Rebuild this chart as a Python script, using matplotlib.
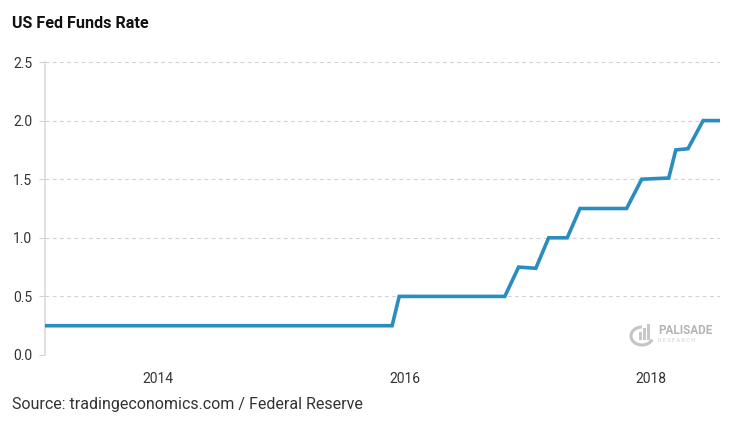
import matplotlib
matplotlib.use("Agg")
import matplotlib.pyplot as plt
import matplotlib.patches as mpatches
import pandas as pd

plt.rcParams['font.family'] = ['Roboto', 'DejaVu Sans']

title = "US Fed Funds Rate"
source = "Source: tradingeconomics.com / Federal Reserve"

dates = ["2013-01-30", "2015-11-25", "2015-12-16", "2016-10-24", "2016-12-04",
         "2017-01-24", "2017-03-03", "2017-04-27", "2017-06-04", "2017-10-20",
         "2017-12-04", "2018-02-22", "2018-03-15", "2018-04-20", "2018-06-04",
         "2018-07-24"]
rates = [0.25, 0.25, 0.50, 0.50, 0.75, 0.74, 1.00, 1.00, 1.25, 1.25,
         1.50, 1.51, 1.75, 1.76, 2.00, 2.00]
yticks = [0.0, 0.5, 1.0, 1.5, 2.0, 2.5]
xtick_years = [2014, 2016, 2018]

x = pd.to_datetime(dates)

W, H = 731, 429
fig = plt.figure(figsize=(W/100, H/100), dpi=100)
ax = fig.add_axes([45/W, 1-355/H, (720-45)/W, (355-62)/H])

ax.plot(x, rates, color='#2b8cbf', lw=2.6, solid_joinstyle='miter', zorder=3)

ax.set_xlim(x[0], x[-1])
ax.set_ylim(0, 2.5)
ax.set_yticks(yticks)
ax.set_yticklabels([f"{v:.1f}" for v in yticks])
ax.set_xticks([pd.Timestamp(f"{y}-01-01") for y in xtick_years])
ax.set_xticklabels([str(y) for y in xtick_years])

ax.grid(axis='y', color='#d2d2d2', linestyle=(0, (3.5, 3)), lw=0.8)
ax.set_axisbelow(True)
for s in ['top', 'right', 'bottom']:
    ax.spines[s].set_visible(False)
ax.spines['left'].set_color('#dddddd')
ax.spines['left'].set_linewidth(1.3)

ax.tick_params(axis='y', length=4, width=0.8, color='#d2d2d2', pad=5,
               labelsize=10, labelcolor='#333333')
ax.tick_params(axis='x', length=0, pad=12, labelsize=10, labelcolor='#333333')

fig.text(12/W, 1-24/H, title, fontsize=11.6, fontweight='bold',
         color='#111111', va='center', ha='left')
fig.text(12/W, 1-405/H, source, fontsize=11.5, color='#333333',
         va='center', ha='left')

# watermark
fig.text(658/W, 1-330/H, "PALISADE", fontsize=8.5, color='#b5b5b5',
         va='center', ha='left', fontweight='bold')
fig.text(658/W, 1-340/H, "R E S E A R C H", fontsize=4, color='#d0d0d0',
         va='center', ha='left')
arc = mpatches.Arc((642/W, 1-336/H), 22/W, 18/H, theta1=90, theta2=330,
                   transform=fig.transFigure, color='#c4c4c4', lw=2.2)
fig.add_artist(arc)
for bx, bh in [(639, 8), (643, 12), (647, 16)]:
    fig.add_artist(mpatches.Rectangle((bx/W, 1-340/H), 3/W, bh/H,
                                      transform=fig.transFigure,
                                      color='#c8c8c8', lw=0))

fig.savefig("out.png", dpi=100)
